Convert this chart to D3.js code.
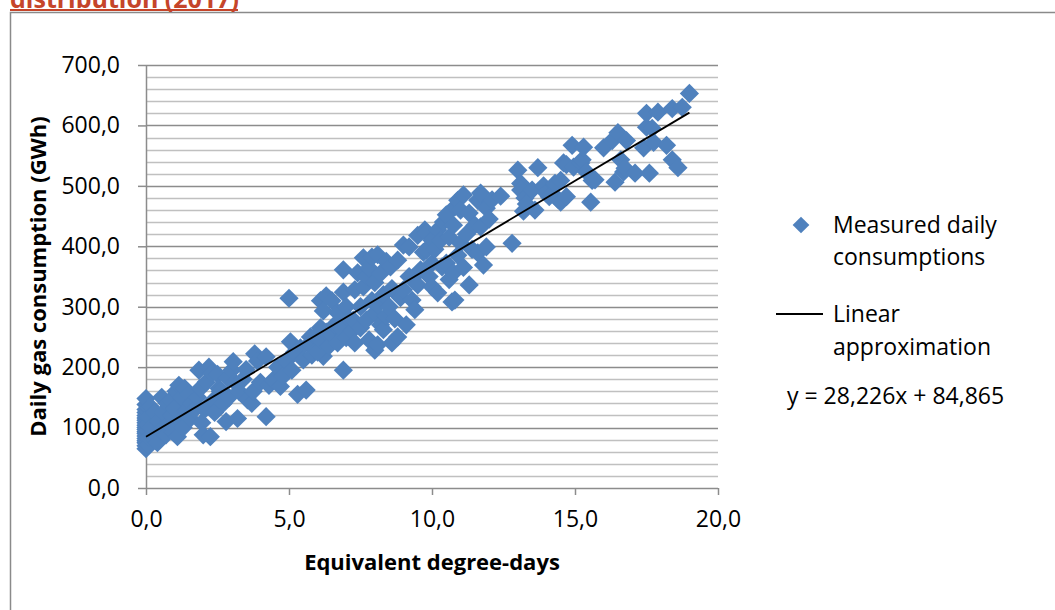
<!DOCTYPE html>
<html>
<head>
<meta charset="utf-8">
<script src="https://cdn.jsdelivr.net/npm/d3@7"></script>
<style>
  body { margin: 0; background: #fff; }
  text { font-family: "Open Sans", sans-serif; fill: #000; }
</style>
</head>
<body>
<div id="chart"></div>
<script>
// 1: DATA
const chartTitle = "distribution (2017)";
const xLabel = "Equivalent degree-days";
const yLabel = "Daily gas consumption (GWh)";
const xTickValues = [0, 5, 10, 15, 20];
const yTickValues = [0, 100, 200, 300, 400, 500, 600, 700];
const trendSlope = 28.226;
const trendIntercept = 84.865;
const trendXRange = [0, 19];

// [equivalent degree-days, GWh]
const dailyPoints = [
  // summer days, zero degree-days
  [0, 65], [0, 70], [0, 75], [0, 78], [0, 82], [0, 86], [0, 90], [0, 93], [0, 97], [0, 100],
  [0, 104], [0, 108], [0, 112], [0, 116], [0, 120], [0, 125], [0, 130], [0, 138], [0, 148],
  [0.05, 88], [0.05, 95], [0.05, 105], [0.1, 118], [0.1, 72], [0.1, 84], [0.15, 100], [0.15, 135],
  // 0.2 - 2
  [0.3, 80], [0.3, 125], [0.4, 75], [0.45, 110], [0.5, 95], [0.55, 150], [0.6, 125], [0.7, 88],
  [0.75, 140], [0.8, 105], [0.85, 145], [0.9, 120], [0.95, 93], [1.0, 132], [1.05, 160], [1.1, 85],
  [1.15, 170], [1.2, 112], [1.25, 150], [1.3, 100], [1.35, 165], [1.4, 128], [1.5, 155], [1.55, 115],
  [1.6, 140], [1.7, 130], [1.8, 150], [1.85, 195], [1.9, 165], [1.95, 108], [2.0, 88], [2.05, 130],
  // 2 - 4
  [2.1, 175], [2.2, 200], [2.25, 85], [2.3, 190], [2.35, 145], [2.4, 125], [2.5, 188], [2.55, 165],
  [2.6, 160], [2.7, 140], [2.8, 110], [2.85, 182], [2.9, 150], [3.0, 195], [3.05, 209], [3.1, 175],
  [3.2, 115], [3.25, 160], [3.4, 180], [3.5, 196], [3.55, 146], [3.7, 140], [3.75, 160], [3.8, 222],
  [3.9, 210], [4.0, 175],
  // 4 - 6
  [4.2, 118], [4.2, 217], [4.3, 170], [4.45, 179], [4.6, 200], [4.7, 168], [4.8, 185], [4.9, 210],
  [5.0, 314], [5.05, 242], [5.1, 195], [5.2, 225], [5.3, 155], [5.4, 232], [5.5, 212], [5.6, 162],
  [5.7, 238], [5.75, 250], [5.8, 220], [5.9, 250], [6.0, 230], [6.1, 310], [6.3, 318], [6.1, 265],
  [6.2, 218],
  // 6 - 8.5
  [6.0, 225], [6.1, 245], [6.2, 293], [6.3, 258], [6.4, 235], [6.5, 253], [6.5, 310], [6.6, 270],
  [6.7, 290], [6.7, 240], [6.8, 265], [6.9, 324], [6.9, 361], [6.9, 195], [7.0, 249], [7.0, 300],
  [7.1, 280], [7.2, 260], [7.25, 278], [7.3, 328], [7.3, 240], [7.4, 356], [7.5, 300], [7.5, 265],
  [7.6, 381], [7.6, 333], [7.7, 278], [7.7, 350], [7.8, 364], [7.8, 245], [7.9, 382], [7.9, 310],
  [8.0, 228], [8.0, 290], [8.0, 340], [8.1, 386], [8.1, 303], [8.1, 237], [8.2, 270], [8.2, 355],
  [8.3, 262], [8.3, 320], [8.4, 285], [8.4, 375],
  // 8.5 - 10
  [8.5, 300], [8.55, 366], [8.6, 240], [8.6, 330], [8.7, 280], [8.8, 377], [8.8, 250], [8.9, 315],
  [9.0, 328], [9.0, 402], [9.1, 270], [9.2, 399], [9.2, 350], [9.3, 311], [9.4, 295], [9.5, 336],
  [9.5, 418], [9.6, 361], [9.7, 390], [9.75, 427], [9.8, 394], [9.8, 422], [9.9, 350], [10.0, 333],
  [10.0, 372], [10.0, 410],
  // 10 - 12
  [10.1, 395], [10.2, 323], [10.2, 427], [10.3, 410], [10.35, 366], [10.4, 440], [10.5, 372],
  [10.5, 452], [10.6, 345], [10.6, 415], [10.7, 308], [10.75, 356], [10.75, 435], [10.8, 311],
  [10.8, 465], [10.9, 385], [10.9, 476], [11.0, 405], [11.0, 460], [11.1, 485], [11.1, 365],
  [11.2, 420], [11.3, 336], [11.3, 455], [11.4, 395], [11.5, 435], [11.6, 389], [11.6, 476],
  [11.7, 432], [11.7, 488], [11.8, 369], [11.9, 399], [11.9, 463], [12.0, 445],
  // 12 - 14
  [12.1, 477], [12.4, 483], [12.8, 405], [13.0, 526], [13.1, 504], [13.1, 493], [13.2, 458],
  [13.25, 480], [13.3, 470], [13.5, 493], [13.6, 460], [13.7, 530], [13.9, 500], [14.0, 488],
  [14.1, 482],
  // 14 - 16
  [14.3, 501], [14.3, 504], [14.4, 478], [14.5, 473], [14.5, 509], [14.6, 538], [14.7, 482],
  [14.7, 535], [14.9, 567], [14.95, 531], [15.2, 538], [15.25, 543], [15.3, 564], [15.4, 523],
  [15.55, 473], [15.6, 509], [15.7, 510], [16.0, 563],
  // 16 - 19
  [16.3, 575], [16.4, 506], [16.5, 588], [16.6, 543], [16.7, 523], [16.75, 529], [16.8, 575],
  [17.1, 521], [17.4, 563], [17.5, 597], [17.5, 620], [17.6, 521], [17.7, 595], [17.75, 572],
  [17.9, 622], [18.2, 567], [18.4, 543], [18.4, 628], [18.6, 530], [18.75, 630], [19.0, 653]
];

// 2: SIZES
const W = 1055, H = 610;
const plot = { left: 146, right: 718, top: 65, bottom: 488 };
const blue = "#4f81bd";
const gridMinor = "#c0c0c0";
const gridMajor = "#8c8c8c";

const commaLocale = d3.formatLocale({ decimal: ",", thousands: " ", grouping: [3], currency: ["", ""] });
const fmt = commaLocale.format(".1f");

const svg = d3.select("#chart").append("svg")
  .attr("width", W)
  .attr("height", H);

// outer frame (cut by the window) and title
svg.append("rect")
  .attr("x", 10.5).attr("y", 12.5)
  .attr("width", W + 20).attr("height", H + 20)
  .attr("fill", "none")
  .attr("stroke", "#8a8a8a")
  .attr("stroke-width", 1.5);

svg.append("text")
  .attr("x", 10).attr("y", 8)
  .style("font-size", "25px")
  .style("font-weight", "bold")
  .style("fill", "#c5452a")
  .text(chartTitle);

svg.append("line")
  .attr("x1", 10).attr("x2", 238)
  .attr("y1", 10).attr("y2", 10)
  .attr("stroke", "#c5452a")
  .attr("stroke-width", 2);

// 3: SCALES
const x = d3.scaleLinear().domain([0, 20]).range([plot.left, plot.right]);
const y = d3.scaleLinear().domain([0, 700]).range([plot.bottom, plot.top]);

// 4: GRID
svg.append("g")
  .selectAll("line")
  .data(y.ticks(35).filter(v => v > 0))
  .join("line")
  .attr("x1", plot.left).attr("x2", plot.right)
  .attr("y1", d => Math.round(y(d)) + 0.5)
  .attr("y2", d => Math.round(y(d)) + 0.5)
  .attr("stroke", d => d % 100 === 0 ? gridMajor : gridMinor)
  .attr("stroke-width", 1.3);

// 5: AXES
const yAxis = svg.append("g")
  .attr("transform", `translate(${plot.left},0)`)
  .call(d3.axisLeft(y).tickValues(yTickValues).tickFormat(fmt).tickSize(8).tickPadding(18));
const xAxis = svg.append("g")
  .attr("transform", `translate(0,${plot.bottom})`)
  .call(d3.axisBottom(x).tickValues(xTickValues).tickFormat(fmt).tickSize(7).tickPadding(16));

[yAxis, xAxis].forEach(a => {
  a.select(".domain").attr("stroke", gridMajor).attr("stroke-width", 1.5);
  a.selectAll(".tick line").attr("stroke", gridMajor).attr("stroke-width", 1.5);
  a.selectAll(".tick text").style("font-size", "23px").attr("fill", "#000");
});
yAxis.select(".domain").attr("d", `M0.5,${plot.top}V${plot.bottom}`);
xAxis.select(".domain").attr("d", `M${plot.left},0.5H${plot.right}`);

// 6: POINTS
const diamond = d3.symbol().type(d3.symbolSquare).size(185);
svg.append("g")
  .selectAll("path")
  .data(dailyPoints)
  .join("path")
  .attr("d", diamond)
  .attr("transform", d => `translate(${x(d[0])},${y(d[1])}) rotate(45)`)
  .attr("fill", blue);

// trend line
svg.append("line")
  .attr("x1", x(trendXRange[0]))
  .attr("y1", y(trendSlope * trendXRange[0] + trendIntercept))
  .attr("x2", x(trendXRange[1]))
  .attr("y2", y(trendSlope * trendXRange[1] + trendIntercept))
  .attr("stroke", "#000")
  .attr("stroke-width", 1.8);

// 7: LABELS
svg.append("text")
  .attr("x", (plot.left + plot.right) / 2)
  .attr("y", 570)
  .attr("text-anchor", "middle")
  .style("font-size", "22px")
  .style("font-weight", "bold")
  .text(xLabel);

svg.append("text")
  .attr("transform", `translate(46,${(plot.top + plot.bottom) / 2}) rotate(-90)`)
  .attr("text-anchor", "middle")
  .style("font-size", "22px")
  .style("font-weight", "bold")
  .text(yLabel);

// LEGEND
const legend = svg.append("g");
legend.append("path")
  .attr("d", d3.symbol().type(d3.symbolSquare).size(140))
  .attr("transform", "translate(801,225) rotate(45)")
  .attr("fill", blue);
legend.append("text")
  .attr("x", 833).attr("y", 233)
  .style("font-size", "23px")
  .selectAll("tspan")
  .data(["Measured daily", "consumptions"])
  .join("tspan")
  .attr("x", 833)
  .attr("dy", (d, i) => i === 0 ? 0 : 32)
  .text(d => d);

legend.append("line")
  .attr("x1", 776).attr("x2", 823)
  .attr("y1", 314).attr("y2", 314)
  .attr("stroke", "#000").attr("stroke-width", 1.8);
legend.append("text")
  .attr("x", 833).attr("y", 322)
  .style("font-size", "23px")
  .selectAll("tspan")
  .data(["Linear", "approximation"])
  .join("tspan")
  .attr("x", 833)
  .attr("dy", (d, i) => i === 0 ? 0 : 33)
  .text(d => d);

legend.append("text")
  .attr("x", 787).attr("y", 404)
  .style("font-size", "23px")
  .text(`y = ${commaLocale.format(".3f")(trendSlope)}x + ${commaLocale.format(".3f")(trendIntercept)}`);
</script>
</body>
</html>
